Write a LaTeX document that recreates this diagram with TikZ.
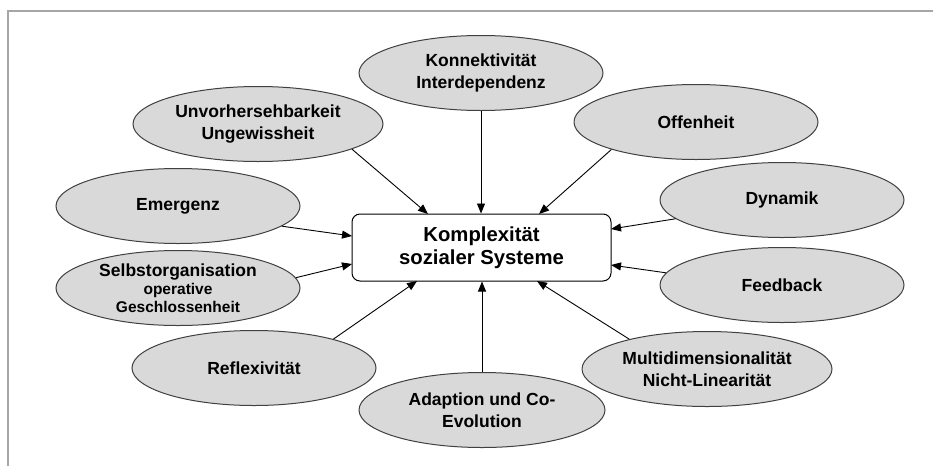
\documentclass[tikz,border=0pt]{standalone}
\usepackage{fontspec}
\setmainfont{Liberation Sans}
\usetikzlibrary{shapes.geometric,arrows.meta}
\definecolor{ellfill}{HTML}{D9D9D9}
\definecolor{elldraw}{HTML}{404040}
\definecolor{framegray}{HTML}{A6A6A6}
\tikzset{
  ell/.style={ellipse, draw=elldraw, fill=ellfill, line width=1pt, inner sep=0pt,
    minimum width=244pt, minimum height=75pt, align=center,
    font=\bfseries\fontsize{17.5}{21.5}\selectfont},
  corebox/.style={draw=black, fill=white, rounded corners=8pt, line width=1pt,
    minimum width=259pt, minimum height=67pt, inner sep=0pt, align=center,
    font=\bfseries\fontsize{20.3}{23}\selectfont},
  arr/.style={draw=black, line width=0.9pt, -{Triangle[length=10pt,width=8pt]}}
}
\begin{document}
\begin{tikzpicture}[x=1pt,y=-1pt]
\useasboundingbox (0,0) rectangle (933,466);
\draw[framegray, line width=2pt] (8,466) -- (8,11) -- (933,11);

\node[corebox] (box) at (481.5,247.5) {Komplexität\\sozialer Systeme};

\node[ell] (konn) at (481,73) {Konnektivität\\Interdependenz};
\node[ell, minimum width=250pt] (unv) at (258,124) {Unvorhersehbarkeit\\Ungewissheit};
\node[ell] (off) at (696,122) {Offenheit};
\node[ell] (em) at (178,206) {Emergenz};
\node[ell, font=\bfseries\fontsize{15.5}{18}\selectfont] (selbst) at (178,288)
  {{\fontsize{17.5}{18}\selectfont Selbstorganisation}\\operative\\Geschlossenheit};
\node[ell] (dyn) at (782,200) {Dynamik};
\node[ell] (feed) at (782,285) {Feedback};
\node[ell] (refl) at (254,368) {Reflexivität};
\node[ell, minimum width=246pt] (adapt) at (482,410) {Adaption und Co-\\Evolution};
\node[ell, minimum width=250pt] (multi) at (707,369) {Multidimensionalität\\Nicht-Linearität};

\coordinate (tUnv) at (428,214);
\coordinate (tOff) at (539,214);
\coordinate (tEm) at (352,236);
\coordinate (tSelbst) at (352,264);
\coordinate (tDyn) at (611,229);
\coordinate (tFeed) at (611,265);
\coordinate (tRefl) at (417,281);
\coordinate (tMulti) at (537,281);

\draw[arr] (konn.south) -- (konn.south |- box.north);
\draw[arr] (unv.-15) -- (tUnv);
\draw[arr] (off.-162) -- (tOff);
\draw[arr] (em.-11) -- (tEm);
\draw[arr] (selbst.5) -- (tSelbst);
\draw[arr] (dyn.-170) -- (tDyn);
\draw[arr] (feed.174) -- (tFeed);
\draw[arr] (refl.20) -- (tRefl);
\draw[arr] (adapt.north) -- (adapt.north |- box.south);
\draw[arr] (multi.159) -- (tMulti);
\end{tikzpicture}
\end{document}
